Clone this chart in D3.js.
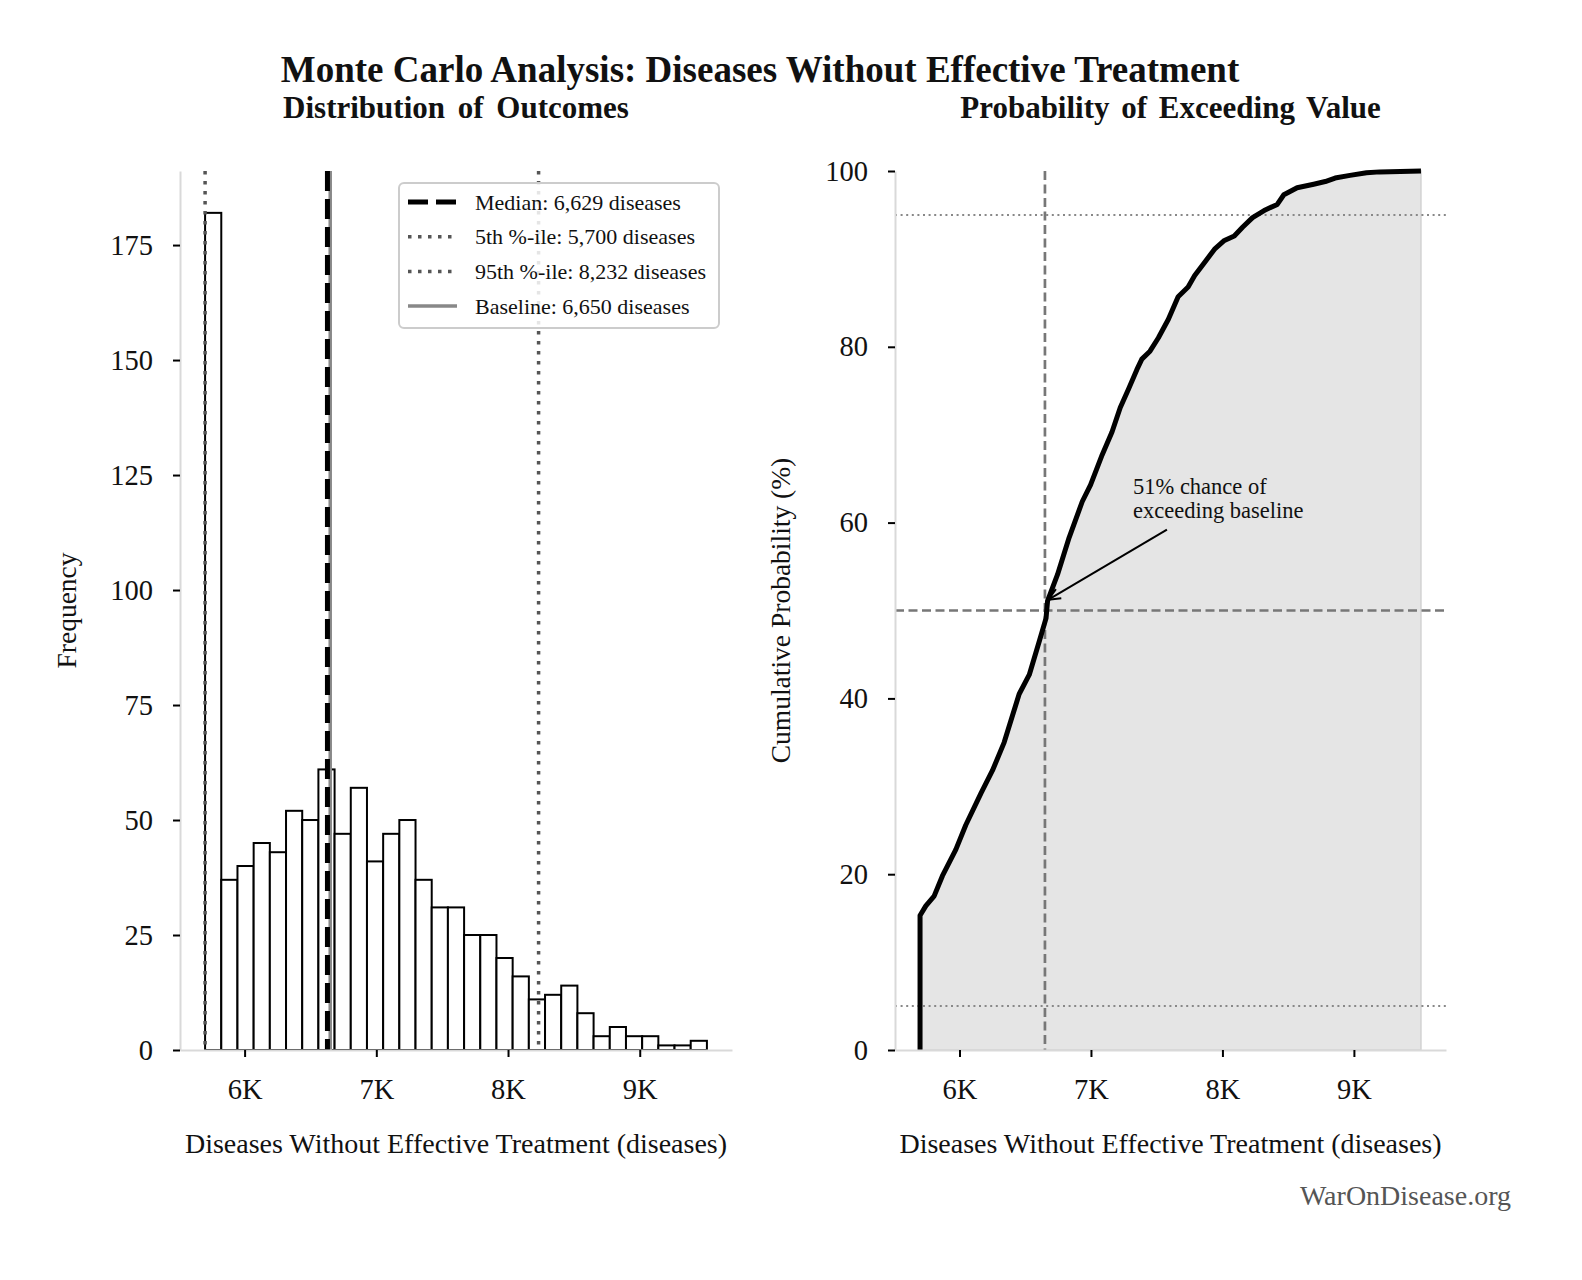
<!DOCTYPE html>
<html>
<head>
<meta charset="utf-8">
<script src="https://cdn.jsdelivr.net/npm/d3@7"></script>
<style>
  body { margin: 0; background: #fff; }
  svg text { font-family: "Liberation Serif", "DejaVu Serif", serif; fill: #111; }
</style>
</head>
<body>
<div id="chart"></div>
<script>
// histogram (31 equal bins, min clipped at 5,700)
const binStart = 5700;
const binEnd = 9510;
const binCounts = [182, 37, 40, 45, 43, 52, 50, 61, 47, 57, 41, 47, 50, 37, 31, 31,
                   25, 25, 20, 16, 11, 12, 14, 8, 3, 5, 3, 3, 1, 1, 2];

// cumulative curve
const cdfValues = [5700, 5700, 5744, 5807, 5870, 5972, 6048, 6163, 6251, 6340, 6454, 6531,
                   6607, 6658, 6670, 6746, 6834, 6934, 6997, 7085, 7160, 7223, 7286, 7349,
                   7387, 7449, 7512, 7588, 7663, 7739, 7789, 7864, 7940, 8015, 8090, 8153,
                   8229, 8317, 8417, 8467, 8568, 8694, 8782, 8857, 8970, 9096, 9197, 9510];
const cdfPercent = [0, 15.3, 16.4, 17.5, 19.8, 22.8, 25.6, 29.2, 31.8, 35.0, 40.5, 42.7,
                    46.5, 49.1, 51.1, 54.1, 58.3, 62.4, 64.3, 67.7, 70.3, 73.1, 75.2, 77.4,
                    78.6, 79.5, 81.0, 83.1, 85.7, 86.8, 88.1, 89.6, 91.1, 92.1, 92.6, 93.6,
                    94.7, 95.5, 96.2, 97.3, 98.1, 98.5, 98.8, 99.2, 99.5, 99.8, 99.9, 100];

const median = 6629;
const p5 = 5700;
const p95 = 8232;
const baseline = 6650;
const exceedPct = 51;

const xTicks = [6000, 7000, 8000, 9000];
const xTickLabels = ["6K", "7K", "8K", "9K"];
const freqTicks = [0, 25, 50, 75, 100, 125, 150, 175];
const pctTicks = [0, 20, 40, 60, 80, 100];

const W = 1582, H = 1280;
const plotTop = 171, plotBottom = 1050;
const left = { x0: 180, x1: 732 };
const right = { x0: 895, x1: 1446 };
const fmt = d3.format(",");

const svg = d3.select("#chart").append("svg")
    .attr("width", W)
    .attr("height", H);

// titles
svg.append("text")
    .attr("x", 760).attr("y", 82)
    .attr("text-anchor", "middle")
    .style("font-size", "37px").style("font-weight", "bold")
    .text("Monte Carlo Analysis: Diseases Without Effective Treatment");

svg.append("text")
    .attr("x", (left.x0 + left.x1) / 2).attr("y", 118)
    .attr("text-anchor", "middle")
    .style("font-size", "31px").style("font-weight", "bold")
    .style("word-spacing", "5px")
    .text("Distribution of Outcomes");

svg.append("text")
    .attr("x", (right.x0 + right.x1) / 2).attr("y", 118)
    .attr("text-anchor", "middle")
    .style("font-size", "31px").style("font-weight", "bold")
    .style("word-spacing", "4px")
    .text("Probability of Exceeding Value");

// shared x extent with 5% margins like matplotlib
const span = binEnd - binStart;
const xDomain = [binStart - span * 0.05, binEnd + span * 0.05];

function styleAxis(g) {
    g.select(".domain").attr("stroke", "#d9d9d9").attr("stroke-width", 2);
    g.selectAll(".tick line").attr("stroke", "#000").attr("stroke-width", 2);
    g.selectAll(".tick text")
        .style("font-family", '"Liberation Serif", serif')
        .style("font-size", "28.5px")
        .attr("fill", "#111");
}

// ---------- left panel: histogram ----------
const xL = d3.scaleLinear().domain(xDomain).range([left.x0, left.x1]);
const yL = d3.scaleLinear().domain([0, d3.max(binCounts) * 1.05]).range([plotBottom, plotTop]);
const binW = span / binCounts.length;

const gL = svg.append("g");

gL.append("g")
    .selectAll("rect")
    .data(binCounts)
    .join("rect")
    .attr("x", (d, i) => xL(binStart + i * binW))
    .attr("width", xL(binStart + binW) - xL(binStart))
    .attr("y", d => yL(d))
    .attr("height", d => yL(0) - yL(d))
    .attr("fill", "#fff")
    .attr("stroke", "#000")
    .attr("stroke-width", 2);

const refStyles = [
    { value: median, label: `Median: ${fmt(median)} diseases`, color: "#000", width: 5, dash: "20,8" },
    { value: p5, label: `5th %-ile: ${fmt(p5)} diseases`, color: "#555", width: 3.5, dash: "3.5,6.5" },
    { value: p95, label: `95th %-ile: ${fmt(p95)} diseases`, color: "#555", width: 3.5, dash: "3.5,6.5" },
    { value: baseline, label: `Baseline: ${fmt(baseline)} diseases`, color: "#888", width: 3.5, dash: null }
];

// draw baseline first so the median dashes sit on top
[refStyles[3], refStyles[1], refStyles[2], refStyles[0]].forEach(r => {
    gL.append("line")
        .attr("x1", xL(r.value)).attr("x2", xL(r.value))
        .attr("y1", plotTop).attr("y2", plotBottom)
        .attr("stroke", r.color)
        .attr("stroke-width", r.width)
        .attr("stroke-dasharray", r.dash);
});

gL.append("g")
    .attr("transform", `translate(0,${plotBottom})`)
    .call(d3.axisBottom(xL).tickValues(xTicks).tickFormat((d, i) => xTickLabels[i])
        .tickSize(7).tickSizeOuter(0).tickPadding(22))
    .call(styleAxis);

gL.append("g")
    .attr("transform", `translate(${left.x0},0)`)
    .call(d3.axisLeft(yL).tickValues(freqTicks).tickSize(7).tickSizeOuter(0).tickPadding(20))
    .call(styleAxis);

gL.append("text")
    .attr("x", (left.x0 + left.x1) / 2).attr("y", 1153)
    .attr("text-anchor", "middle")
    .style("font-size", "28px")
    .text("Diseases Without Effective Treatment (diseases)");

gL.append("text")
    .attr("transform", `translate(76,${(plotTop + plotBottom) / 2}) rotate(-90)`)
    .attr("text-anchor", "middle")
    .style("font-size", "27.5px")
    .text("Frequency");

// legend
const leg = gL.append("g").attr("transform", "translate(399,183)");
leg.append("rect")
    .attr("width", 320).attr("height", 145)
    .attr("rx", 5)
    .attr("fill", "#fff").attr("fill-opacity", 0.85)
    .attr("stroke", "#cccccc").attr("stroke-width", 2);

refStyles.forEach((r, i) => {
    const cy = 19 + i * 34.7;
    leg.append("line")
        .attr("x1", 9).attr("x2", 58)
        .attr("y1", cy).attr("y2", cy)
        .attr("stroke", r.color)
        .attr("stroke-width", r.width)
        .attr("stroke-dasharray", r.dash);
    leg.append("text")
        .attr("x", 76).attr("y", cy)
        .attr("dy", "0.35em")
        .style("font-size", "22px")
        .text(r.label);
});

// ---------- right panel: cumulative probability ----------
const xR = d3.scaleLinear().domain(xDomain).range([right.x0, right.x1]);
const yR = d3.scaleLinear().domain([0, 100]).range([plotBottom, plotTop]);
const cdf = cdfValues.map((v, i) => ({ v, p: cdfPercent[i] }));

const gR = svg.append("g");

gR.append("path")
    .datum(cdf)
    .attr("d", d3.area().x(d => xR(d.v)).y0(yR(0)).y1(d => yR(d.p)))
    .attr("fill", "#e5e5e5")
    .attr("stroke", "#d2d2d2")
    .attr("stroke-width", 1.5);

[5, 95].forEach(p => {
    gR.append("line")
        .attr("x1", right.x0).attr("x2", right.x1)
        .attr("y1", yR(p)).attr("y2", yR(p))
        .attr("stroke", "#888").attr("stroke-width", 2)
        .attr("stroke-dasharray", "2,3.6");
});

gR.append("line")
    .attr("x1", right.x0).attr("x2", right.x1)
    .attr("y1", yR(50)).attr("y2", yR(50))
    .attr("stroke", "#777").attr("stroke-width", 2.7)
    .attr("stroke-dasharray", "9,4.5");

gR.append("line")
    .attr("x1", xR(baseline)).attr("x2", xR(baseline))
    .attr("y1", plotTop).attr("y2", plotBottom)
    .attr("stroke", "#777").attr("stroke-width", 2.7)
    .attr("stroke-dasharray", "9,4.5");

gR.append("path")
    .datum(cdf)
    .attr("d", d3.line().x(d => xR(d.v)).y(d => yR(d.p)))
    .attr("fill", "none")
    .attr("stroke", "#000")
    .attr("stroke-width", 5)
    .attr("stroke-linejoin", "round");

gR.append("g")
    .attr("transform", `translate(0,${plotBottom})`)
    .call(d3.axisBottom(xR).tickValues(xTicks).tickFormat((d, i) => xTickLabels[i])
        .tickSize(7).tickSizeOuter(0).tickPadding(22))
    .call(styleAxis);

gR.append("g")
    .attr("transform", `translate(${right.x0},0)`)
    .call(d3.axisLeft(yR).tickValues(pctTicks).tickSize(7).tickSizeOuter(0).tickPadding(20))
    .call(styleAxis);

gR.append("text")
    .attr("x", (right.x0 + right.x1) / 2).attr("y", 1153)
    .attr("text-anchor", "middle")
    .style("font-size", "28px")
    .text("Diseases Without Effective Treatment (diseases)");

gR.append("text")
    .attr("transform", `translate(790,${(plotTop + plotBottom) / 2}) rotate(-90)`)
    .attr("text-anchor", "middle")
    .style("font-size", "27.5px")
    .text("Cumulative Probability (%)");

// annotation with arrow
const annoText = [7320, 63.3];
const annoFrom = [7578, 59.2];
const tipX = xR(baseline), tipY = yR(exceedPct);
const fx = xR(annoFrom[0]), fy = yR(annoFrom[1]);
const ang = Math.atan2(tipY - fy, tipX - fx);
const ex = tipX - 4 * Math.cos(ang), ey = tipY - 4 * Math.sin(ang);

gR.append("line")
    .attr("x1", fx).attr("y1", fy).attr("x2", ex).attr("y2", ey)
    .attr("stroke", "#000").attr("stroke-width", 2);

const headLen = 13, headAng = 0.42;
gR.append("path")
    .attr("d", `M${ex - headLen * Math.cos(ang - headAng)},${ey - headLen * Math.sin(ang - headAng)}
                L${ex},${ey}
                L${ex - headLen * Math.cos(ang + headAng)},${ey - headLen * Math.sin(ang + headAng)}`)
    .attr("fill", "none").attr("stroke", "#000").attr("stroke-width", 2);

const anno = gR.append("text")
    .attr("x", xR(annoText[0])).attr("y", yR(annoText[1]))
    .style("font-size", "22.5px");
anno.append("tspan").attr("x", xR(annoText[0])).text(`${exceedPct}% chance of`);
anno.append("tspan").attr("x", xR(annoText[0])).attr("dy", 24).text("exceeding baseline");

// watermark
svg.append("text")
    .attr("x", 1511).attr("y", 1205)
    .attr("text-anchor", "end")
    .style("font-size", "28px")
    .style("fill", "#555")
    .text("WarOnDisease.org");
</script>
</body>
</html>
